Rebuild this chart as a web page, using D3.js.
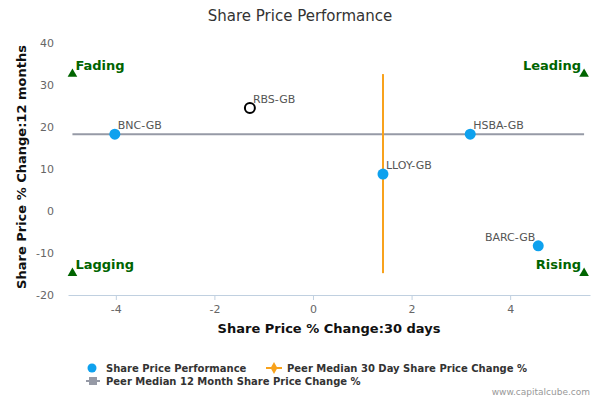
<!DOCTYPE html>
<html lang="en">
<head>
<meta charset="utf-8">
<title>Share Price Performance</title>
<script src="https://d3js.org/d3.v7.min.js"></script>
<style>
  body { margin: 0; background: #fff; }
  svg { font-family: "DejaVu Sans", sans-serif; }
</style>
</head>
<body>
<script>
// companies and their % changes (30 day, 12 month)
var tickers = ["BNC-GB", "RBS-GB", "HSBA-GB", "LLOY-GB", "BARC-GB"];
var change30d = [-4.02, -1.28, 3.19, 1.42, 4.57];
var change12m = [18.3, 24.5, 18.3, 8.8, -8.3];
var isSubject = [false, true, false, false, false];

// peer medians
var median30d = 1.42;
var median12m = 18.3;

// quadrant corner markers
var quadNames = ["Fading", "Leading", "Lagging", "Rising"];
var quadX = [-4.88, 5.5, -4.88, 5.5];
var quadY = [32.6, 32.6, -14.8, -14.8];

var xTicks = [-4, -2, 0, 2, 4];
var yTicks = [-20, -10, 0, 10, 20, 30, 40];

var w = 600, h = 400;
var plotL = 68, plotR = 590, plotT = 43, plotB = 295;

var svg = d3.select("body").append("svg")
  .attr("width", w)
  .attr("height", h);

var x = d3.scaleLinear().domain([-4.97, 5.62]).range([plotL, plotR]);
var y = d3.scaleLinear().domain([-20, 40]).range([plotB, plotT]);

// title
svg.append("text")
  .attr("x", 300).attr("y", 21)
  .attr("text-anchor", "middle")
  .style("font-size", "15px")
  .style("fill", "#333")
  .text("Share Price Performance");

// x axis
var xAxis = svg.append("g")
  .attr("transform", "translate(0," + plotB + ")")
  .call(d3.axisBottom(x).tickValues(xTicks).tickFormat(function(d) { return String(d); })
    .tickSize(5).tickPadding(5).tickSizeOuter(0));
xAxis.select(".domain").attr("stroke", "#c0d0e0");
xAxis.selectAll(".tick line").attr("stroke", "#c0d0e0");
xAxis.selectAll(".tick text")
  .style("font-size", "11px")
  .style("fill", "#666")
  .style("font-family", "DejaVu Sans, sans-serif");

// y axis (labels only)
var yAxis = svg.append("g")
  .attr("transform", "translate(" + (plotL - 6) + ",0)")
  .call(d3.axisLeft(y).tickValues(yTicks).tickFormat(function(d) { return String(d); })
    .tickSize(0).tickPadding(8));
yAxis.select(".domain").remove();
yAxis.selectAll(".tick text")
  .style("font-size", "11px")
  .style("fill", "#666")
  .style("font-family", "DejaVu Sans, sans-serif");

// axis titles
svg.append("text")
  .attr("x", (plotL + plotR) / 2).attr("y", 333)
  .attr("text-anchor", "middle")
  .style("font-size", "13px")
  .style("font-weight", "bold")
  .style("fill", "#111")
  .text("Share Price % Change:30 days");

svg.append("text")
  .attr("transform", "translate(26," + ((plotT + plotB) / 2 - 2) + ") rotate(-90)")
  .attr("text-anchor", "middle")
  .style("font-size", "13px")
  .style("font-weight", "bold")
  .style("fill", "#111")
  .text("Share Price % Change:12 months");

// median lines
svg.append("line")
  .attr("x1", x(quadX[0])).attr("x2", x(quadX[1]))
  .attr("y1", y(median12m)).attr("y2", y(median12m))
  .attr("stroke", "#969aa6").attr("stroke-width", 2);

svg.append("line")
  .attr("x1", x(median30d)).attr("x2", x(median30d))
  .attr("y1", y(quadY[0])).attr("y2", y(quadY[2]))
  .attr("stroke", "#f8a21c").attr("stroke-width", 2);

// quadrant markers
var tri = d3.symbol().type(d3.symbolTriangle).size(40);
quadNames.forEach(function(name, i) {
  svg.append("path")
    .attr("d", tri)
    .attr("transform", "translate(" + x(quadX[i]) + "," + y(quadY[i]) + ")")
    .attr("fill", "#006400");
  var isLeft = i % 2 === 0;
  svg.append("text")
    .attr("x", x(quadX[i]) + (isLeft ? 3 : -3))
    .attr("y", y(quadY[i]) - 4)
    .attr("text-anchor", isLeft ? "start" : "end")
    .style("font-size", "13px")
    .style("font-weight", "bold")
    .style("fill", "#006400")
    .text(name);
});

// points
tickers.forEach(function(t, i) {
  var cx = x(change30d[i]), cy = y(change12m[i]);
  svg.append("circle")
    .attr("cx", cx).attr("cy", cy)
    .attr("r", isSubject[i] ? 5 : 5.5)
    .attr("fill", isSubject[i] ? "#fff" : "#0ea1ee")
    .attr("stroke", isSubject[i] ? "#000" : "none")
    .attr("stroke-width", 2);
  var toLeft = i === 4;
  svg.append("text")
    .attr("x", toLeft ? cx - 3 : cx + 3)
    .attr("y", cy - 5)
    .attr("text-anchor", toLeft ? "end" : "start")
    .style("font-size", "11px")
    .style("fill", "#555")
    .text(t);
});

// legend
var lg = svg.append("g").style("font-size", "10px").style("font-weight", "bold").style("fill", "#333");
lg.append("circle").attr("cx", 92).attr("cy", 368).attr("r", 4.5).attr("fill", "#0ea1ee");
lg.append("text").attr("x", 106).attr("y", 372).text("Share Price Performance");

lg.append("line").attr("x1", 266).attr("x2", 282).attr("y1", 368).attr("y2", 368)
  .attr("stroke", "#f8a21c").attr("stroke-width", 2);
lg.append("path").attr("d", d3.symbol().type(d3.symbolDiamond).size(40))
  .attr("transform", "translate(274,368)").attr("fill", "#f8a21c");
lg.append("text").attr("x", 287).attr("y", 372).text("Peer Median 30 Day Share Price Change %");

lg.append("line").attr("x1", 86).attr("x2", 100).attr("y1", 381).attr("y2", 381)
  .attr("stroke", "#969aa6").attr("stroke-width", 2);
lg.append("rect").attr("x", 89).attr("y", 377).attr("width", 8).attr("height", 8).attr("fill", "#969aa6");
lg.append("text").attr("x", 106).attr("y", 385).text("Peer Median 12 Month Share Price Change %");

// credits
svg.append("text")
  .attr("x", 590).attr("y", 395)
  .attr("text-anchor", "end")
  .style("font-size", "9px")
  .style("fill", "#999")
  .text("www.capitalcube.com");
</script>
</body>
</html>
